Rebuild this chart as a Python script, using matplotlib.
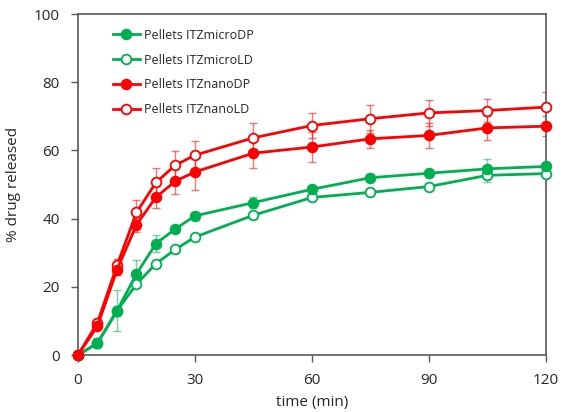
import matplotlib.pyplot as plt

time = [0, 5, 10, 15, 20, 25, 30, 45, 60, 75, 90, 105, 120]

micro_dp = [0, 3.5, 13.0, 23.8, 32.7, 37.0, 40.8, 44.7, 48.6, 52.0, 53.3, 54.6, 55.3]
micro_dp_err = [0, 1.5, 6.0, 4.0, 2.4, 1.0, 1.0, 1.5, 1.0, 1.0, 1.0, 3.0, 1.0]

micro_ld = [0, 3.5, 13.0, 20.8, 26.8, 31.0, 34.6, 41.0, 46.2, 47.7, 49.4, 52.7, 53.2]
micro_ld_err = [0, 1.0, 1.5, 1.0, 1.0, 1.0, 1.0, 1.0, 1.0, 1.0, 1.0, 2.0, 1.0]

nano_dp = [0, 8.5, 25.0, 38.2, 46.3, 51.0, 53.7, 59.2, 61.0, 63.4, 64.4, 66.6, 67.1]
nano_dp_err = [0, 1.0, 1.5, 2.0, 3.2, 3.8, 5.3, 4.4, 4.5, 2.7, 3.6, 3.5, 3.0]

nano_ld = [0, 9.5, 26.3, 41.8, 50.6, 55.7, 58.6, 63.7, 67.3, 69.3, 71.0, 71.7, 72.7]
nano_ld_err = [0, 1.0, 2.0, 3.7, 4.1, 4.1, 4.1, 4.4, 3.8, 4.1, 3.8, 3.4, 4.4]

labels = ['Pellets ITZmicroDP', 'Pellets ITZmicroLD', 'Pellets ITZnanoDP', 'Pellets ITZnanoLD']

plt.rcParams['font.family'] = ['Open Sans', 'DejaVu Sans']

green = '#00B050'
red = '#FF0000'

fig = plt.figure(figsize=(5.64, 4.12), dpi=100)
ax = fig.add_axes([0.1383, 0.1383, 0.8297, 0.8277])

# (values, errors, colour, filled marker, z-order)
series = [
    (micro_dp, micro_dp_err, green, True, 3.1),
    (micro_ld, micro_ld_err, green, False, 3.0),
    (nano_dp, nano_dp_err, red, True, 3.3),
    (nano_ld, nano_ld_err, red, False, 3.2),
]

for (vals, err, col, filled, z), lab in zip(series, labels):
    ax.errorbar(time, vals, yerr=err, fmt='none', ecolor=col, alpha=0.55,
                elinewidth=1, capsize=3, capthick=1)
    ax.plot(time, vals, color=col, lw=2, marker='o', ms=7,
            mfc=col if filled else 'white', mec=col, mew=1.3, label=lab,
            clip_on=False, zorder=z)

ax.set_xlim(0, 120)
ax.set_ylim(0, 100)
ax.set_xticks([0, 30, 60, 90, 120])
ax.set_yticks([0, 20, 40, 60, 80, 100])
ax.tick_params(direction='out', length=5, width=1, color='#595959',
               labelsize=11, labelcolor='#262626', pad=8)
for s in ax.spines.values():
    s.set_color('#595959')
    s.set_linewidth(1.2)

ax.set_xlabel('time (min)', fontsize=11, color='#262626', labelpad=5)
ax.set_ylabel('% drug released', fontsize=11, color='#262626', labelpad=9)

leg = ax.legend(loc='upper left', bbox_to_anchor=(0.05, 0.99), frameon=False,
                fontsize=9, handlelength=2.2, handletextpad=0.3, labelspacing=0.95)
for t in leg.get_texts():
    t.set_color('#262626')

fig.savefig('out.png', dpi=100)
